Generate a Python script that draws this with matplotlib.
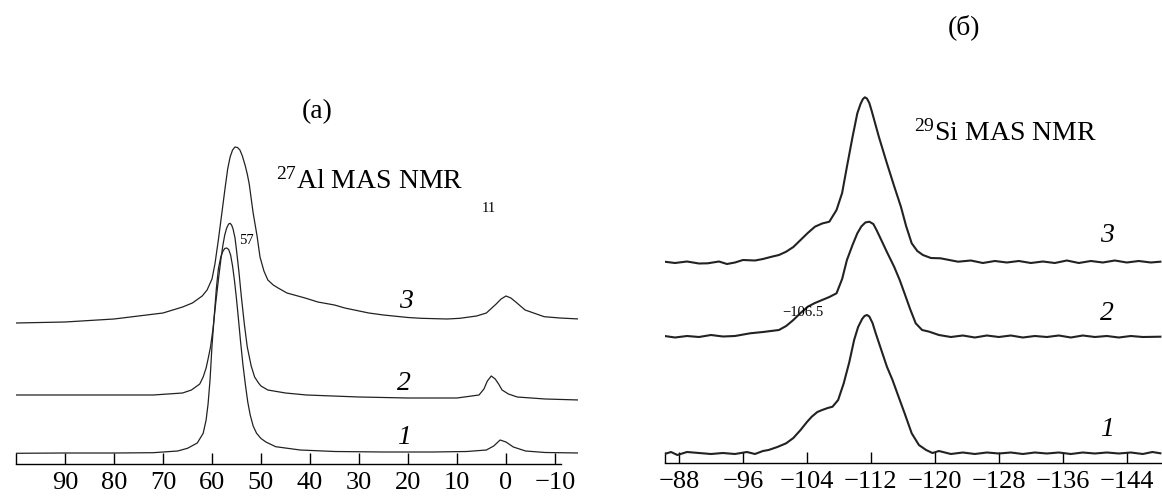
import matplotlib
matplotlib.use("Agg")
import matplotlib.pyplot as plt

plt.rcParams['font.family'] = ['Liberation Serif', 'DejaVu Serif']
plt.rcParams['mathtext.fontset'] = 'custom'
plt.rcParams['mathtext.rm'] = 'Liberation Serif'
plt.rcParams['mathtext.it'] = 'Liberation Serif:italic'

################################################
# Data
################################################
# (a) 27Al MAS NMR, chemical shift in ppm, intensity in arbitrary units
al_ppm_1 = [100, 90, 80, 72, 67, 65, 63, 61.8, 61.2, 60.8, 60.4, 60, 59.5, 59.1, 58.7,
            58.2, 57.8, 57.4, 57, 56.6, 56.2, 55.8, 55.4, 55, 54.6, 54.2, 53.7, 53.2,
            52.7, 52.2, 51.6, 50.9, 50, 49, 47, 42, 35, 25, 15, 8, 4, 2.5, 1.2,
            0, -1.5, -4, -8, -15]
al_int_1 = [10.7, 11, 11, 11.3, 13, 15.7, 21, 30.7, 44, 60, 84, 118, 150.7, 176, 195,
            207, 212.5, 215.5, 216, 214.5, 209, 198, 183, 165, 145, 124, 100, 80,
            62, 49, 38, 30.7, 25.5, 22, 17.3, 14, 12.5, 12, 12, 12.5, 14, 18, 24,
            22, 17, 13, 11.5, 11]

al_ppm_2 = [100, 85, 72, 66, 64.2, 62.5, 61.8, 61.2, 60.8, 60.3, 59.8, 59.3, 58.7, 58.2,
            57.8, 57.4, 57, 56.6, 56.3, 56, 55.7, 55.3, 55.0, 54.5, 54, 53.4, 52.8, 52,
            51.3, 50.5, 50, 48.6, 45, 40.7, 30, 20, 10, 5.5, 4.5, 3.8, 3, 2.2, 1.5, 0.8,
            -0.5, -2.3, -8, -15]
al_int_2 = [69, 69, 69, 71, 74, 80, 87, 96, 105, 117, 135, 158, 184, 204,
            218, 229, 236, 240, 240.7, 239, 235, 226, 214, 192, 167, 140, 117, 98,
            87, 81, 78, 74, 71, 69, 67, 66, 66, 69, 75, 83, 88, 85, 80, 74,
            70, 67, 65, 64]

al_ppm_3 = [100, 90, 80, 70, 66, 64, 62, 61, 60, 59.4, 58.7, 57.8, 57.3, 56.8, 56.3,
            55.8, 55.3, 54.8, 54.3, 53.8, 53.2, 52.8, 52.4, 51.6, 50.8, 50.2, 49.4,
            48.6, 47.5, 46.5, 44.7, 41, 38.4, 35, 32.9, 28, 25, 20, 17.3, 12, 9.4, 6, 4,
            2, 1, 0, -1, -2, -3.9, -7.8, -11, -15]
al_int_3 = [141, 142, 145, 151, 157, 161, 168, 174, 185, 200, 224, 258, 277, 295, 307,
            314, 317, 316.5, 314, 308, 298, 290, 280, 251, 228, 207, 193,
            184, 179, 176, 171, 166, 162, 159, 156, 151, 149, 146.5, 145.7, 145, 145.7, 148, 151,
            160, 165, 168, 166, 162, 154, 147.3, 146, 145]

# (б) 29Si MAS NMR
si_ppm_1 = [-86.2, -87, -87.8, -89, -90.5, -92, -93.5, -95, -96.5, -97.5, -98.5, -99.2,
            -100.3, -101.4, -102.3, -103.2, -104, -104.6, -105.3, -105.9, -106.6, -107.2,
            -107.9, -108.6, -109.3, -109.9, -110.4, -110.9, -111.2, -111.5, -111.8, -112.2,
            -112.6, -113.3, -114, -114.7, -115.3, -116.2, -117.1, -118, -118.9, -119.7,
            -120.5, -122, -123.5, -125, -126.5, -128, -129.5, -131, -132.5, -134, -135.5,
            -137, -138.5, -140, -141.5, -143, -144.5, -146, -147.2, -148.2]
si_int_1 = [9, 11, 8, 11, 10, 9, 10, 9, 11, 9, 12, 13,
            16, 19.7, 25, 33, 41, 46.3, 51, 53, 55, 56.3,
            63, 79.7, 101, 123, 136, 144, 147, 148, 146.5, 140,
            129.7, 113, 96.3, 83, 69.7, 50, 29.7, 18, 13, 10,
            12, 9, 10.5, 9, 10.5, 9.5, 10.5, 9, 10.5, 9.5, 10.5,
            9, 10.5, 9.5, 10.5, 9.5, 10.5, 9, 11, 9.7]

si_ppm_2 = [-86.2, -87.5, -89, -90.5, -92, -93.5, -95, -96.9, -98.5, -100.5, -101.4,
            -102.3, -103.2, -104.1, -105, -105.9, -106.8, -107.7, -108.4, -109, -109.7,
            -110.3, -110.8, -111.3, -111.8, -112.3, -112.7, -113.1, -114, -114.9, -115.6,
            -116.2, -116.9, -117.6, -118.4, -119.3, -120.5, -122, -123.5, -125, -126.5,
            -128, -129.5, -131, -132.5, -134, -135.5, -137, -138.5, -140, -141.5, -143,
            -144.5, -146, -148.2]
si_int_2 = [127, 125.5, 127, 126, 128, 126.5, 127, 129.7, 131, 133, 137,
            143, 150, 156.3, 160, 163, 166, 169.7, 184, 203, 218,
            229.7, 236.5, 240.5, 241.3, 239, 233, 226.3, 211, 196.3, 183,
            169.7, 154, 139.7, 133, 131.3, 128, 126, 127.5, 125.5, 127.5,
            126, 127.5, 125.5, 127, 126, 127.5, 125.5, 127.5, 126, 127, 125.5,
            127, 126, 126.3]

si_ppm_3 = [-86.2, -87.5, -89, -90.5, -91.6, -93, -94, -95, -96, -97.5, -98.5, -99.6,
            -100.5, -101.4, -102.3, -103.2, -104.1, -105, -105.9, -106.8, -107.7, -108.4,
            -109, -109.7, -110.3, -110.7, -111, -111.25, -111.5, -111.8, -112.1, -113,
            -114, -114.9, -115.75, -116.4, -117.1, -117.8, -118.5, -119.5, -120.7,
            -122.9, -124.5, -126, -127.5, -129, -130.5, -132, -133.5, -135, -136.5,
            -138, -139.5, -141, -142.5, -144, -145.5, -147, -148.2]
si_int_3 = [201.3, 200, 201.5, 199.5, 199.7, 201.5, 199, 200.5, 203, 202.5, 204, 206.3,
            208, 211.3, 216, 223, 230, 236.3, 239.5, 241.3, 253, 270,
            296.3, 326, 349.7, 359, 364, 365.7, 364.5, 360, 352, 326,
            299.7, 277, 256.3, 237, 219.7, 212, 208, 205, 204.7,
            201.3, 202.5, 200, 202, 200.5, 202, 200, 201.5, 200, 202.5,
            200, 202, 200.5, 202.5, 200.5, 202, 200.5, 201.3]

al_ticks = [90, 80, 70, 60, 50, 40, 30, 20, 10, 0, -10]
si_ticks = [-88, -96, -104, -112, -120, -128, -136, -144]

W, H = 1162, 501
fig = plt.figure(figsize=(W / 100, H / 100), dpi=100)


def px_axes(x0, x1, y_axis):
    # axes rectangle from pixel coordinates, top of axes at figure top
    return fig.add_axes([x0 / W, (H - y_axis) / H, (x1 - x0) / W, y_axis / H])


def style(ax, ticks, end):
    for s in ['left', 'right', 'top']:
        ax.spines[s].set_visible(False)
    ax.spines['bottom'].set_linewidth(1.0)
    ax.set_yticks([])
    ax.set_xticks(ticks)
    ax.set_xticks([end], minor=True)
    ax.tick_params(axis='x', which='both', direction='in', length=8, width=1.0,
                   labelsize=19, pad=6)
    ax.set_xticklabels([str(t).replace('-', '\u2212') for t in ticks])


def ftext(x, y, s, **kw):
    fig.text(x / W, 1 - y / H, s, ha='center', va='center', **kw)


# (a)
ax1 = px_axes(16, 578, 464)
for xs, ys in [(al_ppm_1, al_int_1), (al_ppm_2, al_int_2), (al_ppm_3, al_int_3)]:
    ax1.plot(xs, ys, color='#222222', lw=0.9)
ax1.set_xlim(100, -14.7)
ax1.set_ylim(0, 464)
ax1.spines['bottom'].set_bounds(100, -11.2)
style(ax1, al_ticks, 100)

# (б)
ax2 = px_axes(665, 1162, 463)
for xs, ys in [(si_ppm_1, si_int_1), (si_ppm_2, si_int_2), (si_ppm_3, si_int_3)]:
    ax2.plot(xs, ys, color='#222222', lw=1.5)
ax2.set_xlim(-86.25, -148.4)
ax2.set_ylim(0, 463)
style(ax2, si_ticks, -86.25)

# labels
ftext(317, 112, '(a)', fontsize=20)
ftext(964, 27, '(б)', fontsize=20)
fig.text(276 / W, 1 - 181 / H, '$^{27}$Al MAS NMR', fontsize=20, ha='left', va='center')
fig.text(914 / W, 1 - 133 / H, '$^{29}$Si MAS NMR', fontsize=20, ha='left', va='center')
ftext(246, 240, '57', fontsize=10.5)
ftext(489, 208, '11', fontsize=10.5)
ftext(803, 312, '\u2212106.5', fontsize=10.5)

for x, y, s in [(406, 302, '3'), (404, 383, '2'), (404, 438, '1'),
                (1107, 235, '3'), (1107, 313, '2'), (1107, 430, '1')]:
    ftext(x, y, s, fontsize=20, style='italic')

fig.savefig('out.png', dpi=100)
